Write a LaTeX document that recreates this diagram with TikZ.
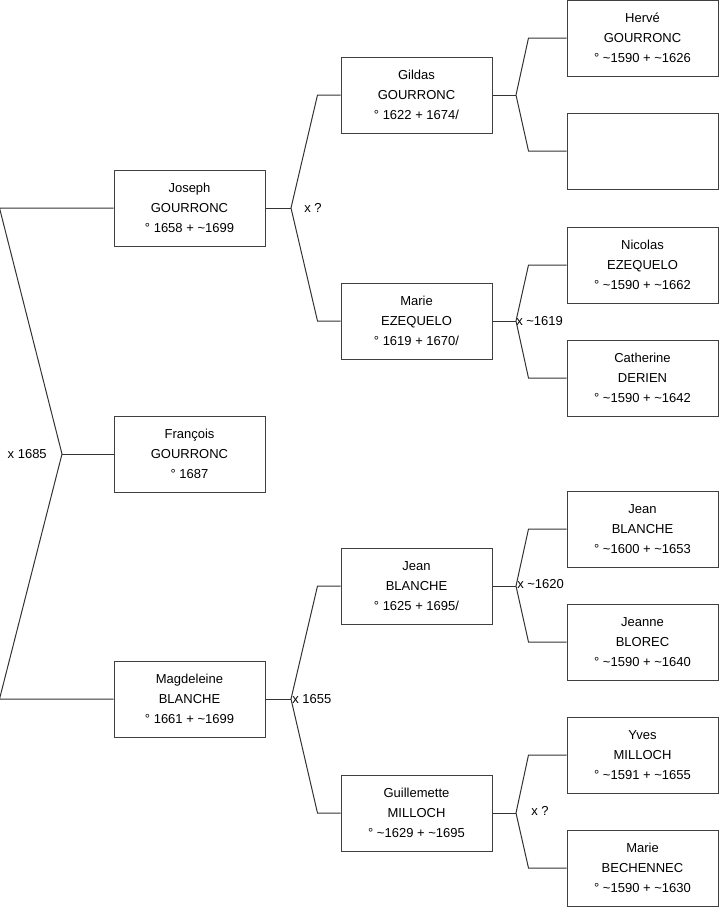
\documentclass[tikz,border=0pt]{standalone}
\usepackage{fontspec}
\setmainfont{Liberation Sans}
\usepackage{tikz}
\usetikzlibrary{calc}
\newcommand{\ca}{\textasciitilde}

\begin{document}
\begin{tikzpicture}[
    x=0.75pt, y=-0.75pt,
    font=\fontsize{9.75pt}{15pt}\selectfont,
    person/.style={draw=black!75, line width=0.75pt, rectangle, minimum width=113.25pt,
                   minimum height=57pt, inner sep=0pt, align=center},
    link/.style={draw=black!80, line width=0.75pt},
    union/.style={inner sep=0pt}
]
    \useasboundingbox (0,0) rectangle (719,908);

    % Generation 1
    \node[person] (joseph) at (189.5,208) {Joseph\\GOURRONC\\° 1658 + \ca1699};
    \node[person] (francois) at (189.5,454) {François\\GOURRONC\\° 1687};
    \node[person] (magdeleine) at (189.5,699) {Magdeleine\\BLANCHE\\° 1661 + \ca1699};

    % Generation 2
    \node[person] (gildas) at (416.5,95) {Gildas\\GOURRONC\\° 1622 + 1674/};
    \node[person] (marieE) at (416.5,321) {Marie\\EZEQUELO\\° 1619 + 1670/};
    \node[person] (jeanB) at (416.5,586) {Jean\\BLANCHE\\° 1625 + 1695/};
    \node[person] (guillemette) at (416.5,813) {Guillemette\\MILLOCH\\° \ca1629 + \ca1695};

    % Generation 3
    \node[person] (herve) at (642.5,38) {Hervé\\GOURRONC\\° \ca1590 + \ca1626};
    \node[person] (unknown) at (642.5,151) {};
    \node[person] (nicolas) at (642.5,265) {Nicolas\\EZEQUELO\\° \ca1590 + \ca1662};
    \node[person] (catherine) at (642.5,378) {Catherine\\DERIEN\\° \ca1590 + \ca1642};
    \node[person] (jeanB2) at (642.5,529) {Jean\\BLANCHE\\° \ca1600 + \ca1653};
    \node[person] (jeanne) at (642.5,642) {Jeanne\\BLOREC\\° \ca1590 + \ca1640};
    \node[person] (yves) at (642.5,755) {Yves\\MILLOCH\\° \ca1591 + \ca1655};
    \node[person] (marieB) at (642.5,868) {Marie\\BECHENNEC\\° \ca1590 + \ca1630};

    % Forks
    \coordinate (fork0) at (62,454);
    \coordinate (forkJ) at (291,208);
    \coordinate (forkM) at (291,699);
    \coordinate (forkG) at (516,95);
    \coordinate (forkE) at (516,321);
    \coordinate (forkB) at (516,586);
    \coordinate (forkL) at (516,813);

    % Union labels
    \node[union, anchor=east] (u1685) at (47,454) {x 1685};
    \node[union, anchor=west] (uJ) at (304,208) {x ?};
    \node[union, anchor=west] (u1655) at (292,699) {x 1655};
    \node[union, anchor=west] (u1619) at (516,321) {x \ca1619};
    \node[union, anchor=west] (u1620) at (517,584) {x \ca1620};
    \node[union, anchor=west] (uL) at (531,811) {x ?};

    % Links
    \draw[link] (joseph.west) -- ($(joseph.west)+(-114,0)$) -- (fork0)
        -- ($(magdeleine.west)+(-114,0)$) -- (magdeleine.west);
    \draw[link] (fork0) -- (francois.west);

    \draw[link] (joseph.east) -- (forkJ);
    \draw[link] (gildas.west) -- ++(-23,0) -- (forkJ) -- ($(marieE.west)+(-23,0)$) -- (marieE.west);
    \draw[link] (magdeleine.east) -- (forkM);
    \draw[link] (jeanB.west) -- ++(-23,0) -- (forkM) -- ($(guillemette.west)+(-23,0)$) -- (guillemette.west);

    \draw[link] (gildas.east) -- (forkG);
    \draw[link] (herve.west) -- ++(-38,0) -- (forkG) -- ($(unknown.west)+(-38,0)$) -- (unknown.west);
    \draw[link] (marieE.east) -- (forkE);
    \draw[link] (nicolas.west) -- ++(-38,0) -- (forkE) -- ($(catherine.west)+(-38,0)$) -- (catherine.west);
    \draw[link] (jeanB.east) -- (forkB);
    \draw[link] (jeanB2.west) -- ++(-38,0) -- (forkB) -- ($(jeanne.west)+(-38,0)$) -- (jeanne.west);
    \draw[link] (guillemette.east) -- (forkL);
    \draw[link] (yves.west) -- ++(-38,0) -- (forkL) -- ($(marieB.west)+(-38,0)$) -- (marieB.west);
\end{tikzpicture}
\end{document}
